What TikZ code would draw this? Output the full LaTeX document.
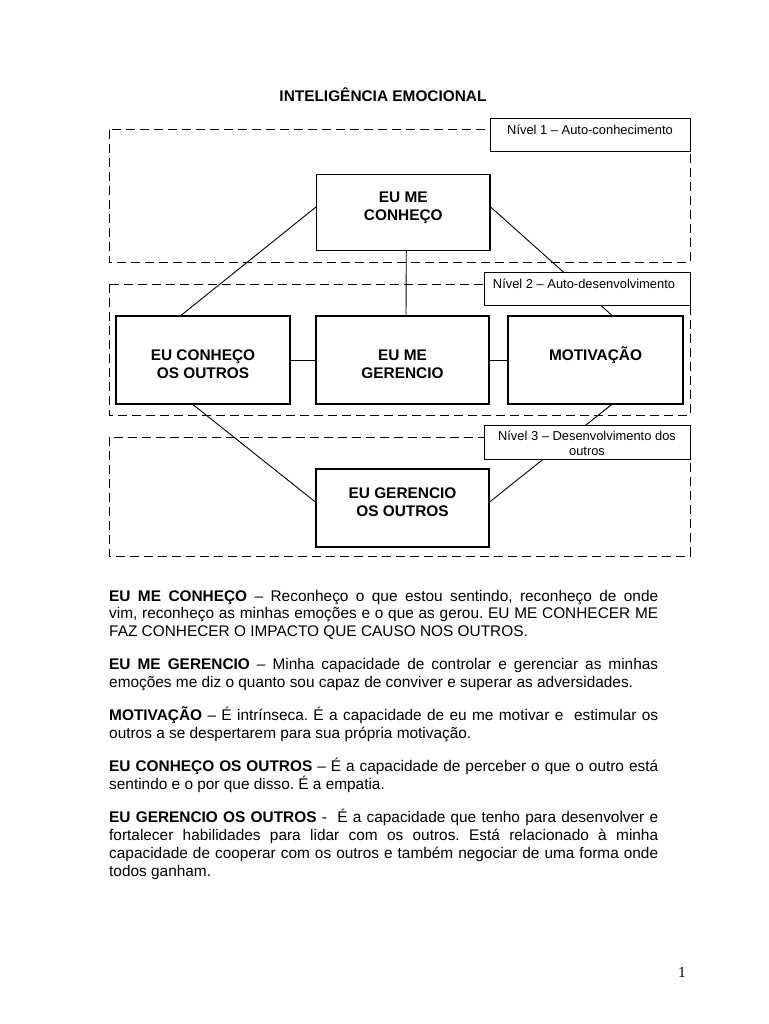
\documentclass[tikz,border=0pt]{standalone}
\usepackage{fontspec}
\setmainfont{Liberation Sans}
\newfontfamily\pgserif{Liberation Serif}
\frenchspacing
\begin{document}
\begin{tikzpicture}[x=1pt,y=-1pt,
  level/.style={draw, dash pattern=on 9pt off 5pt, line width=1pt},
  box/.style={draw, fill=white, line width=1.2pt, inner sep=0pt},
  boxtext/.style={font=\fontsize{15.4}{17.9}\selectfont\bfseries, align=center, inner sep=0pt},
  lbl/.style={draw, fill=white, line width=1pt, inner sep=0pt},
  lbltext/.style={font=\fontsize{12.9}{15}\selectfont, align=center, inner sep=0pt},
  link/.style={line width=0.9pt}]
\useasboundingbox[fill=white] (0,0) rectangle (768,1024);

\node[font=\fontsize{15.4}{18}\selectfont\bfseries, inner sep=0pt] (title) at (383,95) {INTELIGÊNCIA EMOCIONAL};

% level areas
\draw[level] (109,130) rectangle (690,262);
\draw[level] (109,284) rectangle (690,415);
\draw[level] (109,437) rectangle (690,556);

% boxes
\node[box, minimum width=173.4pt, minimum height=76pt] (conh) at (403.3,212.5) {};
\node[box, minimum width=174pt, minimum height=88pt] (outros) at (203,360) {};
\node[box, minimum width=173pt, minimum height=88pt] (ger) at (402.5,360) {};
\node[box, minimum width=175pt, minimum height=88pt] (motiv) at (595.5,360) {};
\node[box, minimum width=173pt, minimum height=78pt] (gout) at (402.5,508) {};

% connectors
\draw[link] ([yshift=5.5pt]conh.west) -- ([xshift=-22pt]outros.north);
\draw[link] ([yshift=5.5pt]conh.east) -- ([xshift=16.5pt]motiv.north);
\draw[link] ([xshift=3pt]conh.south) -- ([xshift=3.5pt]ger.north);
\draw[link] (outros.east) -- (ger.west);
\draw[link] (ger.east) -- (motiv.west);
\draw[link] ([xshift=-10pt]outros.south) -- ([yshift=6pt]gout.west);
\draw[link] ([xshift=16pt]motiv.south) -- ([yshift=6pt]gout.east);

% box texts
\node[boxtext] (conhT) at (403.3,208) {EU ME\\CONHEÇO};
\node[boxtext] (outrosT) at (203,364.5) {EU CONHEÇO\\OS OUTROS};
\node[boxtext] (gerT) at (402.5,364.5) {EU ME\\GERENCIO};
\node[boxtext] (motivT) at (595.5,355) {MOTIVAÇÃO};
\node[boxtext] (goutT) at (402.5,502) {EU GERENCIO\\OS OUTROS};

% level labels
\node[lbl, minimum width=200pt, minimum height=33pt] (lbl1) at (590,135.5) {};
\node[lbl, minimum width=206pt, minimum height=32.5pt] (lbl2) at (587,288.75) {};
\node[lbl, minimum width=206pt, minimum height=34pt] (lbl3) at (587,442) {};
\node[lbltext, anchor=base] (lbl1T) at (590,134.5) {Nível 1 – Auto-conhecimento};
\node[lbltext, anchor=base] (lbl2T) at (584,288.5) {Nível 2 – Auto-desenvolvimento};
\node[lbltext] (lbl3T) at (587,443.5) {Nível 3 – Desenvolvimento dos\\outros};

% body text
\node[anchor=base west, inner sep=0pt, text width=549pt, align=justify,
      font=\fontsize{15.4}{17.9}\selectfont] (body) at (109,601) {%
\hyphenpenalty=10000 \exhyphenpenalty=10000 \tolerance=9999 \hbadness=10000
\textbf{EU ME CONHEÇO} – Reconheço o que estou sentindo, reconheço de onde\linebreak
vim, reconheço as minhas emoções e o que as gerou. EU ME CONHECER ME\linebreak
FAZ CONHECER O IMPACTO QUE CAUSO NOS OUTROS.\par\vspace{15.1pt}
\textbf{EU ME GERENCIO} – Minha capacidade de controlar e gerenciar as minhas\linebreak
emoções me diz o quanto sou capaz de conviver e superar as adversidades.\par\vspace{15.1pt}
\textbf{MOTIVAÇÃO} – É intrínseca. É a capacidade de eu me motivar e\ \ estimular os\linebreak
outros a se despertarem para sua própria motivação.\par\vspace{15.1pt}
\textbf{EU CONHEÇO OS OUTROS} – É a capacidade de perceber o que o outro está\linebreak
sentindo e o por que disso. É a empatia.\par\vspace{15.1pt}
\textbf{EU GERENCIO OS OUTROS} -\ \ É a capacidade que tenho para desenvolver e\linebreak
fortalecer habilidades para lidar com os outros. Está relacionado à minha\linebreak
capacidade de cooperar com os outros e também negociar de uma forma onde\linebreak
todos ganham.};

\node[font=\pgserif\fontsize{15.4}{18}\selectfont, inner sep=0pt] (pg) at (682,972) {1};
\end{tikzpicture}
\end{document}
